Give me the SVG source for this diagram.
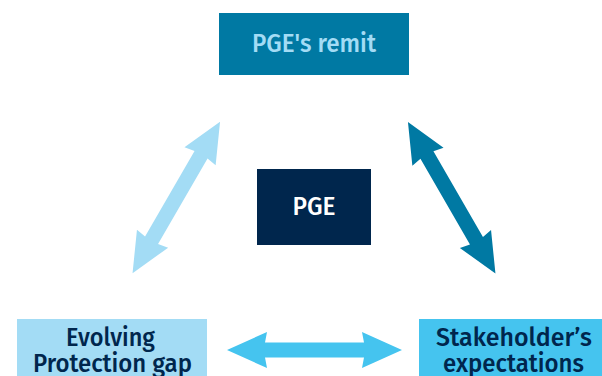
<svg xmlns="http://www.w3.org/2000/svg" width="602" height="376" viewBox="0 0 602 376">
<style>
.t{font-family:"Fira Sans","Noto Sans","Liberation Sans",Arial,sans-serif;font-weight:500;font-size:25px;text-anchor:middle}
.dark{fill:#00264d}
</style>
<defs>
<path id="arr" d="M-87.5,0 L-47.5,-18 L-49.5,-7.5 L49.5,-7.5 L47.5,-18 L87.5,0 L47.5,18 L49.5,7.5 L-49.5,7.5 L-47.5,18 Z"/>
</defs>
<rect width="602" height="376" fill="#ffffff"/>
<g id="connectors">
<use href="#arr" fill="#a3dcf5" transform="translate(176.3,197.5) rotate(-60)"/>
<use href="#arr" fill="#0079a3" transform="translate(451.7,197.8) rotate(60)"/>
<use href="#arr" fill="#45c4ef" transform="translate(314.5,350)"/>
</g>
<g id="remit">
<rect x="219" y="13" width="190" height="62" fill="#0079a3"/>
<text class="t" x="314" y="52" fill="#a3dcf5" textLength="124" lengthAdjust="spacingAndGlyphs">PGE's remit</text>
</g>
<g id="pge">
<rect x="257" y="169" width="114" height="76" fill="#00264d"/>
<text class="t" x="314" y="215" fill="#ffffff" textLength="43" lengthAdjust="spacingAndGlyphs">PGE</text>
</g>
<g id="gap">
<rect x="17" y="319" width="190" height="57" fill="#a3dcf5"/>
<text class="t dark" x="110.5" y="346" textLength="89" lengthAdjust="spacingAndGlyphs">Evolving</text>
<text class="t dark" x="112.5" y="372" textLength="159" lengthAdjust="spacingAndGlyphs">Protection gap</text>
</g>
<g id="stakeholders">
<rect x="419" y="319" width="183" height="57" fill="#45c4ef"/>
<text class="t dark" x="514" y="346" textLength="156" lengthAdjust="spacingAndGlyphs">Stakeholder’s</text>
<text class="t dark" x="513.5" y="372" textLength="141" lengthAdjust="spacingAndGlyphs">expectations</text>
</g>
</svg>
